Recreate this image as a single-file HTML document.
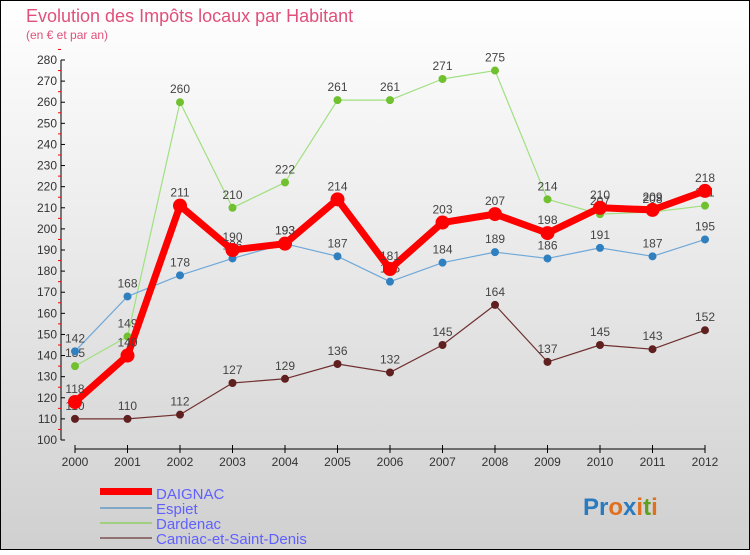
<!DOCTYPE html>
<html><head><meta charset="utf-8"><style>
body{margin:0;width:750px;height:550px;overflow:hidden;font-family:"Liberation Sans",sans-serif}
</style></head><body>
<svg width="750" height="550">
<defs><linearGradient id="bg" x1="0" y1="0" x2="0" y2="1"><stop offset="0" stop-color="#ffffff"/><stop offset="1" stop-color="#d0d0d0"/></linearGradient></defs>
<rect x="0.5" y="0.5" width="749" height="549" fill="url(#bg)" stroke="#000"/>
<text x="26" y="22" font-size="18" fill="#e0507a">Evolution des Impôts locaux par Habitant</text>
<text x="26" y="39" font-size="12" fill="#e0507a">(en € et par an)</text>
<g id="axes"></g><g id="series"></g>
<g>
<rect x="100" y="488" width="52" height="7" fill="#f00"/>
<text x="156" y="499" font-size="15" fill="#6060ff">DAIGNAC</text>
<rect x="100" y="507" width="52" height="2" fill="#80a8c8"/>
<text x="156" y="514" font-size="15" fill="#6060ff">Espiet</text>
<rect x="100" y="522" width="52" height="2" fill="#a0d080"/>
<text x="156" y="529" font-size="15" fill="#6060ff">Dardenac</text>
<rect x="100" y="537" width="52" height="2" fill="#907070"/>
<text x="156" y="544" font-size="15" fill="#6060ff">Camiac-et-Saint-Denis</text>
</g>
<text x="583" y="515" font-size="24" font-weight="bold"><tspan fill="#2a7ac0">Pr</tspan><tspan fill="#e07020">o</tspan><tspan fill="#2a7ac0">x</tspan><tspan fill="#e07020">i</tspan><tspan fill="#60a020">t</tspan><tspan fill="#e07020">i</tspan></text>
</svg>
<script>
const years=[2000,2001,2002,2003,2004,2005,2006,2007,2008,2009,2010,2011,2012];
const daignac=[118,140,211,190,193,214,181,203,207,198,210,209,218];
const espiet=[142,168,178,186,193,187,175,184,189,186,191,187,195];
const dardenac=[135,149,260,210,222,261,261,271,275,214,207,208,211];
const camiac=[110,110,112,127,129,136,132,145,164,137,145,143,152];
const yTicks=[100,110,120,130,140,150,160,170,180,190,200,210,220,230,240,250,260,270,280];
const NS="http://www.w3.org/2000/svg";
const xs=i=>75+i*52.5, ys=v=>440-(v-100)*380/180;
function mk(t,a,p){const e=document.createElementNS(NS,t);for(const k in a)e.setAttribute(k,a[k]);p.appendChild(e);return e;}
const ax=document.getElementById('axes');
let l=mk('line',{x1:61,y1:60,x2:61,y2:440,stroke:'#000'},ax);


yTicks.forEach(v=>{mk('line',{x1:61,x2:65,y1:ys(v),y2:ys(v),stroke:'#000'},ax);
mk('line',{x1:58,x2:61,y1:ys(v+5),y2:ys(v+5),stroke:'#f00'},ax);
const t=mk('text',{x:57,y:ys(v)+4,'font-size':12,'text-anchor':'end',fill:'#333'},ax);t.textContent=v;

});
l=mk('line',{x1:75,y1:449,x2:705,y2:449,stroke:'#000'},ax);


years.forEach((y,i)=>{mk('line',{x1:xs(i),x2:xs(i),y1:445,y2:453,stroke:'#000'},ax);
const t=mk('text',{x:xs(i),y:466,'font-size':12,'text-anchor':'middle',fill:'#333'},ax);t.textContent=y;

});
const sg=document.getElementById('series');
function draw(data,name,col,dot,w,r){
const g=mk('g',{},sg);


const p=mk('polyline',{points:data.map((v,i)=>xs(i)+','+ys(v)).join(' '),fill:'none',stroke:col,'stroke-width':w,'stroke-linejoin':'round'},g);


data.forEach((v,i)=>{const c=mk('circle',{cx:xs(i),cy:ys(v),r:r,fill:dot},g);


const t=mk('text',{x:xs(i),y:ys(v)-9,'font-size':12,'text-anchor':'middle',fill:'#444'},g);t.textContent=v;

});}
draw(camiac,'camiac','#703030','#602020',1.2,4);
draw(dardenac,'dardenac','#a0e080','#70c030',1.2,4);
draw(espiet,'espiet','#70a8d8','#3080c0',1.2,4);
draw(daignac,'daignac','#f00','#f00',7,7);
</script>
</body></html>
